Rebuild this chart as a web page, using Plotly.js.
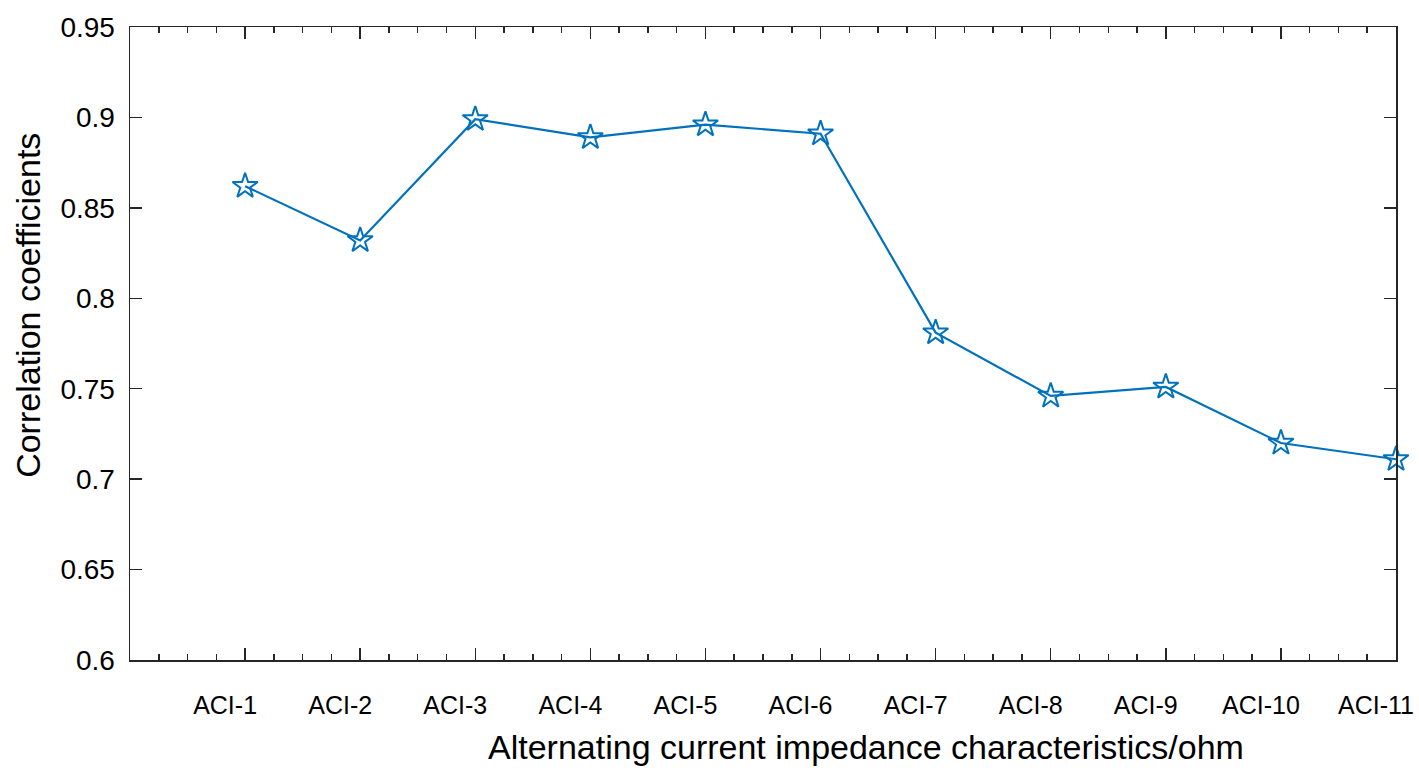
<!DOCTYPE html>
<html>
<head>
<meta charset="utf-8">
<script src="https://cdn.plot.ly/plotly-3.0.1.min.js"></script>
<style>
  html, body { margin: 0; padding: 0; background: #fff; }
  #chart { width: 1419px; height: 770px; }
</style>
</head>
<body>
<div id="chart"></div>
<script>
// categories and correlation values
const categories = ['ACI-1', 'ACI-2', 'ACI-3', 'ACI-4', 'ACI-5', 'ACI-6',
                    'ACI-7', 'ACI-8', 'ACI-9', 'ACI-10', 'ACI-11'];
const xPositions = [1, 2, 3, 4, 5, 6, 7, 8, 9, 10, 11];
const correlation = [0.862, 0.832, 0.899, 0.889, 0.896, 0.891,
                     0.781, 0.746, 0.751, 0.720, 0.711];
const yTicks = [0.6, 0.65, 0.7, 0.75, 0.8, 0.85, 0.9, 0.95];
const yTickText = ['0.6', '0.65', '0.7', '0.75', '0.8', '0.85', '0.9', '0.95'];

const xTitle = 'Alternating current impedance characteristics/ohm';
const yTitle = 'Correlation coefficients';

const lineColor = '#0072BD';
const axisColor = '#262626';
const fam = 'Liberation Sans, Arial, sans-serif';

const trace = {
    type: 'scatter',
    mode: 'lines+markers',
    x: xPositions,
    y: correlation,
    line: { color: lineColor, width: 2.2 },
    marker: {
        symbol: 'star-open',
        size: 19,
        color: lineColor,
        line: { color: lineColor, width: 2 }
    },
    cliponaxis: false,
    showlegend: false
};

// axis titles sit off-centre in the original, so place them as annotations
const annotations = [
    {
        text: xTitle,
        xref: 'paper', yref: 'paper',
        x: 0.581, y: -0.137,
        xanchor: 'center', yanchor: 'middle',
        showarrow: false,
        font: { size: 34, family: fam, color: '#000' }
    },
    {
        text: yTitle,
        xref: 'paper', yref: 'paper',
        x: -0.0806, y: 0.561,
        xanchor: 'center', yanchor: 'middle',
        textangle: -90,
        showarrow: false,
        font: { size: 34, family: fam, color: '#000' }
    }
];

Plotly.newPlot('chart', [trace], {
    width: 1419,
    height: 770,
    margin: { l: 130, r: 23, t: 27, b: 110 },
    paper_bgcolor: 'white',
    plot_bgcolor: 'white',
    font: { family: fam, color: '#000' },
    showlegend: false,
    annotations: annotations,
    xaxis: {
        range: [0, 11],
        tickmode: 'array',
        tickvals: xPositions,
        ticktext: categories,
        tickfont: { size: 25, family: fam, color: '#000' },
        ticks: 'inside',
        ticklen: 12,
        tickwidth: 1.5,
        tickcolor: axisColor,
        ticklabelstandoff: 22,
        ticklabelshift: -20,
        ticklabeloverflow: 'allow',
        minor: {
            tickmode: 'linear',
            tick0: 0,
            dtick: 0.25,
            ticks: 'inside',
            ticklen: 6,
            tickwidth: 1.5,
            tickcolor: axisColor,
            showgrid: false
        },
        showline: true,
        linecolor: axisColor,
        linewidth: 1.5,
        mirror: 'ticks',
        showgrid: false,
        zeroline: false,
        automargin: false
    },
    yaxis: {
        range: [0.6, 0.95],
        tickmode: 'array',
        tickvals: yTicks,
        ticktext: yTickText,
        tickfont: { size: 28, family: fam, color: '#000' },
        ticks: 'inside',
        ticklen: 12,
        tickwidth: 1.5,
        tickcolor: axisColor,
        ticklabelstandoff: 8,
        ticklabeloverflow: 'allow',
        showline: true,
        linecolor: axisColor,
        linewidth: 1.5,
        mirror: 'ticks',
        showgrid: false,
        zeroline: false,
        automargin: false
    }
}, { displayModeBar: false, staticPlot: true });
</script>
</body>
</html>
